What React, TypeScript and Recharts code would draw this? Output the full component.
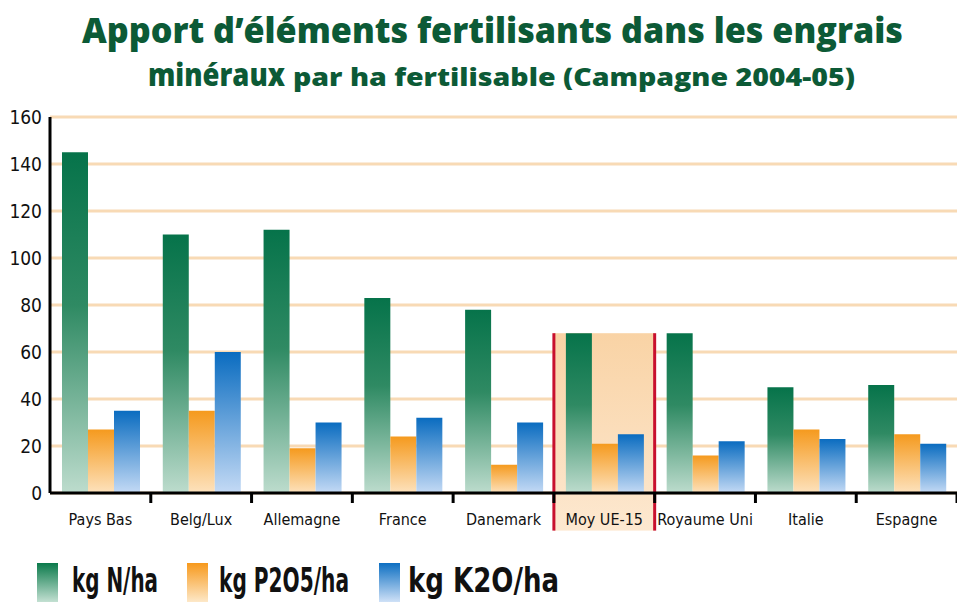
import { BarChart, Bar, XAxis, YAxis, CartesianGrid, ReferenceArea, Legend } from "recharts";

const categories = [
  "Pays Bas",
  "Belg/Lux",
  "Allemagne",
  "France",
  "Danemark",
  "Moy UE-15",
  "Royaume Uni",
  "Italie",
  "Espagne",
];
const nValues = [145, 110, 112, 83, 78, 68, 68, 45, 46];
const pValues = [27, 35, 19, 24, 12, 21, 16, 27, 25];
const kValues = [35, 60, 30, 32, 30, 25, 22, 23, 21];
const yTicks = [0, 20, 40, 60, 80, 100, 120, 140, 160];

const seriesNames = { n: "kg N/ha", p: "kg P2O5/ha", k: "kg K2O/ha" };
const highlighted = "Moy UE-15";

const data = categories.map((name, i) => ({
  name,
  n: nValues[i],
  p: pValues[i],
  k: kValues[i],
}));

const narrow = "'Liberation Sans Narrow', 'DejaVu Sans Condensed', 'Arial Narrow', sans-serif";
const titleFont = "'Open Sans', 'Noto Sans', sans-serif";
const titleColor = "#0c5a36";

const XTick = (props: any) => {
  const { x, y, payload } = props;
  return (
    <g>
      <line x1={x + 50.4} x2={x + 50.4} y1={y} y2={y + 10} stroke="#000" strokeWidth={3} />
      <text x={x} y={y + 32} textAnchor="middle" fontSize={16} fontFamily={narrow} fill="#111">
        {payload.value}
      </text>
    </g>
  );
};

const HighlightShape = (props: any) => {
  const { x, y, width, height } = props;
  return (
    <g>
      <rect x={x} y={y} width={width} height={height} fill="url(#gHi)" />
      <line x1={x} x2={x} y1={y} y2={y + height} stroke="#c8102e" strokeWidth={3} />
      <line x1={x + width} x2={x + width} y1={y} y2={y + height} stroke="#c8102e" strokeWidth={3} />
    </g>
  );
};

const LegendContent = () => {
  const items = [
    { key: "n", grad: "lgN", box: 37, text: 72, len: 86 },
    { key: "p", grad: "lgP", box: 187, text: 219, len: 130 },
    { key: "k", grad: "lgK", box: 379, text: 408, len: 151 },
  ];
  return (
    <svg width={957} height={40} style={{ display: "block" }}>
      <defs>
        <linearGradient id="lgN" x1="0" y1="0" x2="0" y2="1">
          <stop offset="0%" stopColor="#0b7a4b" />
          <stop offset="100%" stopColor="#c3e0d2" />
        </linearGradient>
        <linearGradient id="lgP" x1="0" y1="0" x2="0" y2="1">
          <stop offset="0%" stopColor="#f7991c" />
          <stop offset="100%" stopColor="#fde8c8" />
        </linearGradient>
        <linearGradient id="lgK" x1="0" y1="0" x2="0" y2="1">
          <stop offset="0%" stopColor="#0d6fc2" />
          <stop offset="100%" stopColor="#cfe1f7" />
        </linearGradient>
      </defs>
      {items.map((it) => (
        <g key={it.key}>
          <rect x={it.box} y={1} width={21} height={39} fill={`url(#${it.grad})`} />
          <text
            x={it.text}
            y={30}
            fontSize={33}
            fontWeight={700}
            fontFamily={narrow}
            fill="#111"
            textLength={it.len}
            lengthAdjust="spacingAndGlyphs"
          >
            {seriesNames[it.key as keyof typeof seriesNames]}
          </text>
        </g>
      ))}
    </svg>
  );
};

export default function App() {
  return (
    <div style={{ position: "relative", width: 957, height: 602, background: "#fff", overflow: "hidden" }}>
      <style>{"body{margin:0}"}</style>
      <svg width={957} height={100} style={{ position: "absolute", top: 0, left: 0 }}>
        <text
          x={82}
          y={43}
          fontSize={35}
          fontWeight={800}
          fontFamily={titleFont}
          fill={titleColor}
          textLength={821}
          lengthAdjust="spacingAndGlyphs"
        >
          Apport d’éléments fertilisants dans les engrais
        </text>
        <text
          x={148}
          y={86}
          fontSize={32}
          fontWeight={800}
          fontFamily={titleFont}
          fill={titleColor}
          textLength={137}
          lengthAdjust="spacingAndGlyphs"
        >
          minéraux
        </text>
        <text
          x={293}
          y={86}
          fontSize={24}
          fontWeight={800}
          fontFamily={titleFont}
          fill={titleColor}
          textLength={562}
          lengthAdjust="spacingAndGlyphs"
        >
          par ha fertilisable (Campagne 2004-05)
        </text>
      </svg>
      <div style={{ position: "absolute", top: 0, left: 0 }}>
        <BarChart
          width={957}
          height={602}
          data={data}
          margin={{ top: 117, right: 0, bottom: 29, left: 0 }}
          barCategoryGap={12}
          barGap={0}
        >
          <defs>
            <linearGradient id="gN" x1="0" y1="0" x2="0" y2="1">
              <stop offset="0%" stopColor="#06734a" />
              <stop offset="45%" stopColor="#2f8a63" />
              <stop offset="100%" stopColor="#bddccd" />
            </linearGradient>
            <linearGradient id="gP" x1="0" y1="0" x2="0" y2="1">
              <stop offset="0%" stopColor="#f59a1e" />
              <stop offset="100%" stopColor="#fde2bd" />
            </linearGradient>
            <linearGradient id="gK" x1="0" y1="0" x2="0" y2="1">
              <stop offset="0%" stopColor="#0a6cc0" />
              <stop offset="100%" stopColor="#c4daf5" />
            </linearGradient>
            <linearGradient id="gHi" x1="0" y1="0" x2="0" y2="1">
              <stop offset="0%" stopColor="#f9d3a5" />
              <stop offset="100%" stopColor="#fde8d0" />
            </linearGradient>
          </defs>
          <CartesianGrid vertical={false} stroke="#f8dab5" strokeWidth={3} />
          <ReferenceArea
            x1={highlighted}
            x2={highlighted}
            y1={-16}
            y2={nValues[categories.indexOf(highlighted)]}
            ifOverflow="visible"
            shape={HighlightShape}
          />
          <XAxis
            dataKey="name"
            axisLine={{ stroke: "#000", strokeWidth: 3 }}
            tickLine={false}
            tickSize={0}
            tickMargin={0}
            height={40}
            interval={0}
            tick={XTick}
          />
          <YAxis
            domain={[0, 160]}
            ticks={yTicks}
            width={50}
            axisLine={{ stroke: "#000", strokeWidth: 3 }}
            tickLine={false}
            tickSize={0}
            tickMargin={8}
            tick={{ fill: "#111", fontSize: 19, fontFamily: narrow }}
          />
          <Legend
            verticalAlign="bottom"
            align="left"
            content={LegendContent}
            wrapperStyle={{ left: 0, bottom: 0, width: 957 }}
          />
          <Bar dataKey="n" name={seriesNames.n} fill="url(#gN)" isAnimationActive={false} />
          <Bar dataKey="p" name={seriesNames.p} fill="url(#gP)" isAnimationActive={false} />
          <Bar dataKey="k" name={seriesNames.k} fill="url(#gK)" isAnimationActive={false} />
        </BarChart>
      </div>
    </div>
  );
}
